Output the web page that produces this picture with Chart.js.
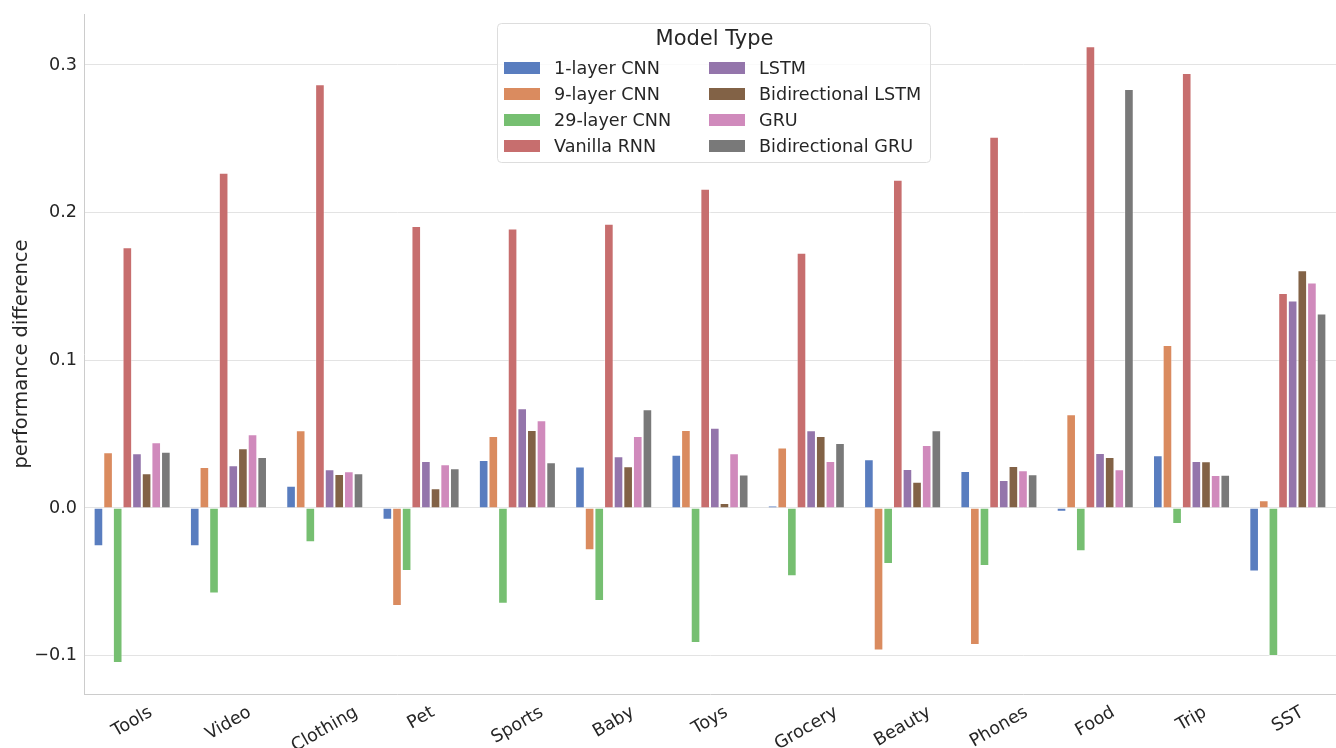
<!DOCTYPE html>
<html>
<head>
<meta charset="utf-8">
<script src="https://cdn.jsdelivr.net/npm/chart.js@4/dist/chart.umd.min.js"></script>
<style>
  html, body { margin: 0; padding: 0; background: #fff; }
  #wrap { width: 1336px; height: 748px; }
</style>
</head>
<body>
<div id="wrap"><canvas id="grafico" width="1336" height="748"></canvas></div>
<script>
var categories = ['Tools', 'Video', 'Clothing', 'Pet', 'Sports', 'Baby', 'Toys', 'Grocery', 'Beauty', 'Phones', 'Food', 'Trip', 'SST'];

var cnn1 = [-0.026, -0.026, 0.015, -0.008, 0.0325, 0.028, 0.036, 0.0016, 0.033, 0.025, -0.0025, 0.0357, -0.043];
var cnn9 = [0.0377, 0.0278, 0.0526, -0.0664, 0.0487, -0.0287, 0.0528, 0.041, -0.0966, -0.0928, 0.0634, 0.1104, 0.0052];
var cnn29 = [-0.105, -0.058, -0.0232, -0.0427, -0.0648, -0.063, -0.0914, -0.0463, -0.0379, -0.0393, -0.0293, -0.0108, -0.1002];
var vanillaRnn = [0.1765, 0.227, 0.2869, 0.1909, 0.1893, 0.1925, 0.2162, 0.1729, 0.2223, 0.2514, 0.3127, 0.2946, 0.1456];
var lstm = [0.037, 0.0289, 0.0262, 0.0318, 0.0675, 0.035, 0.0544, 0.0526, 0.0264, 0.019, 0.0372, 0.0318, 0.1405];
var biLstm = [0.0235, 0.0404, 0.023, 0.0133, 0.0528, 0.0282, 0.0034, 0.0487, 0.0178, 0.0284, 0.0345, 0.0316, 0.161];
var gru = [0.0445, 0.0499, 0.0248, 0.0296, 0.0594, 0.0487, 0.037, 0.0318, 0.0427, 0.0255, 0.0262, 0.0223, 0.1527];
var biGru = [0.038, 0.0345, 0.0235, 0.0269, 0.0309, 0.0668, 0.0226, 0.044, 0.0526, 0.0228, 0.2837, 0.0225, 0.1317];

var seriesNames = ['1-layer CNN', '9-layer CNN', '29-layer CNN', 'Vanilla RNN', 'LSTM', 'Bidirectional LSTM', 'GRU', 'Bidirectional GRU'];
var seriesValues = [cnn1, cnn9, cnn29, vanillaRnn, lstm, biLstm, gru, biGru];
var colori = ['#597dbf', '#da8b5f', '#76bf71', '#c76e6e', '#9475ab', '#826246', '#d08abc', '#797979'];

var yTicks = [-0.1, 0.0, 0.1, 0.2, 0.3];
var yMin = -0.126;
var yMax = 0.3345;

var FONT = 'DejaVu Sans';
var TEXT = '#262626';

Chart.defaults.font.family = FONT;
Chart.defaults.color = TEXT;

// etichette asse x ruotate di 30 gradi, centrate sul tick come in matplotlib
var xLabelsPlugin = {
    id: 'xLabels',
    afterDraw(chart) {
        var ctx = chart.ctx;
        var xs = chart.scales.x;
        var bottom = chart.chartArea.bottom;
        ctx.save();
        ctx.font = '17.6px "' + FONT + '"';
        ctx.fillStyle = TEXT;
        ctx.textAlign = 'center';
        ctx.textBaseline = 'middle';
        categories.forEach((lab, i) => {
            var w = ctx.measureText(lab).width;
            var boxH = w * 0.5 + 20 * 0.866;
            var cx = xs.getPixelForTick(i);
            var cy = bottom + 8.5 + boxH / 2;
            ctx.save();
            ctx.translate(cx, cy);
            ctx.rotate(-Math.PI / 6);
            ctx.fillText(lab, 0, 0);
            ctx.restore();
        });
        ctx.restore();
    }
};

// legenda su due colonne dentro il grafico
var legendPlugin = {
    id: 'legendBox',
    afterDatasetsDraw(chart) {
        var ctx = chart.ctx;
        var x0 = 497, y0 = 23, w = 433, h = 139;
        ctx.save();
        ctx.fillStyle = 'rgba(255,255,255,0.8)';
        ctx.strokeStyle = '#dddddd';
        ctx.lineWidth = 1;
        ctx.beginPath();
        ctx.roundRect(x0 + 0.5, y0 + 0.5, w, h, 4);
        ctx.fill();
        ctx.stroke();

        ctx.fillStyle = TEXT;
        ctx.textAlign = 'center';
        ctx.textBaseline = 'middle';
        ctx.font = '21px "' + FONT + '"';
        ctx.fillText('Model Type', x0 + w / 2 + 1, y0 + 17);

        ctx.font = '17.6px "' + FONT + '"';
        ctx.textAlign = 'left';
        chart.data.datasets.forEach((ds, i) => {
            var col = Math.floor(i / 4);
            var row = i % 4;
            var sx = col === 0 ? 504 : 709;
            var cy = 68 + row * 26;
            ctx.fillStyle = ds.backgroundColor;
            ctx.fillRect(sx, cy - 6, 36, 12);
            ctx.fillStyle = TEXT;
            ctx.fillText(ds.label, sx + 50, cy + 1);
        });
        ctx.restore();
    }
};

var datasets = seriesNames.map((nome, i) => ({
    label: nome,
    data: seriesValues[i],
    backgroundColor: colori[i],
    borderColor: 'rgba(255,255,255,0.45)',
    borderWidth: 1,
    categoryPercentage: 0.8,
    barPercentage: 1.0
}));

var ctx = document.getElementById('grafico');
var myChart = new Chart(ctx, {
    type: 'bar',
    data: {
        labels: categories,
        datasets: datasets
    },
    options: {
        responsive: false,
        animation: false,
        layout: {
            padding: { top: 14, right: 0, left: 0, bottom: 0 }
        },
        plugins: {
            legend: { display: false },
            tooltip: { enabled: false }
        },
        scales: {
            x: {
                grid: { display: false },
                border: { display: true, color: '#cccccc', width: 1 },
                ticks: { display: false },
                afterFit(scale) { scale.height = 54; }
            },
            y: {
                min: yMin,
                max: yMax,
                afterBuildTicks(scale) {
                    scale.ticks = yTicks.map(v => ({ value: v }));
                },
                grid: { color: '#e3e3e3', lineWidth: 1, drawTicks: false },
                border: { display: true, color: '#cccccc', width: 1 },
                ticks: {
                    padding: 7,
                    font: { size: 17.6, lineHeight: 0.8 },
                    color: TEXT,
                    callback: function (v) {
                        var s = Math.abs(v).toFixed(1);
                        return v < -1e-9 ? '\u2212' + s : s;
                    }
                },
                title: {
                    display: true,
                    text: 'performance difference',
                    font: { size: 19.5 },
                    color: TEXT,
                    padding: { top: 10, bottom: 0 }
                },
                afterFit(scale) { scale.width = 84; }
            }
        }
    },
    plugins: [legendPlugin, xLabelsPlugin]
});
</script>
</body>
</html>
